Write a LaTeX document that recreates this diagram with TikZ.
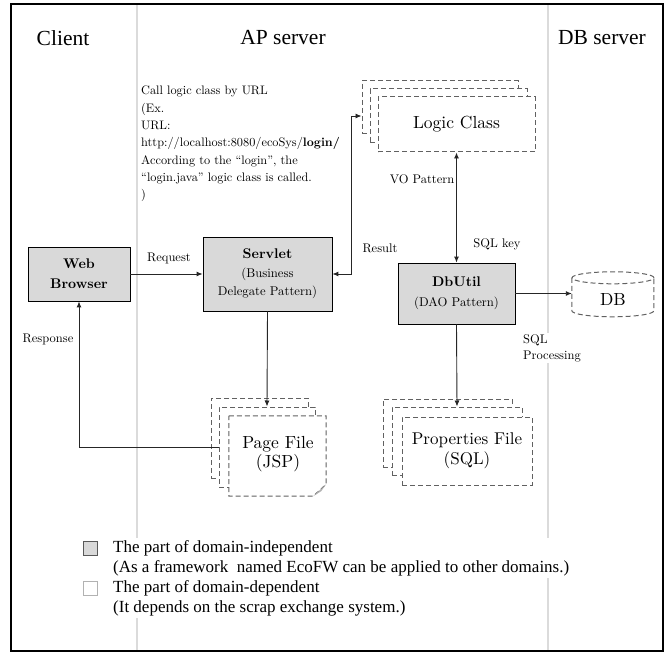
\documentclass[tikz,border=0pt]{standalone}
\usepackage{fontspec}
\setmainfont{lmroman10-regular.otf}[BoldFont=lmroman10-bold.otf, ItalicFont=lmroman10-italic.otf, BoldItalicFont=lmroman10-bolditalic.otf]
\newfontfamily\tnr{Liberation Serif}
\usetikzlibrary{arrows.meta}
\definecolor{boxgray}{gray}{0.85}
\definecolor{dashgray}{gray}{0.38}
\definecolor{divgray}{gray}{0.86}
\begin{document}
\begin{tikzpicture}[x=1pt,y=-1pt,
  solidbox/.style={draw=black, line width=0.8pt, fill=boxgray, align=center, inner sep=0pt},
  pagebox/.style={draw=dashgray, line width=1pt, dash pattern=on 5pt off 3pt, fill=white, inner sep=0pt, align=center},
  conn/.style={line width=0.9pt, draw=black!85},
  tipend/.style={-{Latex[length=6pt,width=5pt]}},
  tipboth/.style={{Latex[length=6pt,width=5pt]}-{Latex[length=6pt,width=5pt]}},
  lbl/.style={font=\fontsize{12.5}{15}\selectfont, inner sep=1pt},
  ttl/.style={font=\tnr\fontsize{21.5}{25}\selectfont},
  legtxt/.style={anchor=north west, fill=white, inner sep=2pt, align=left, font=\tnr\fontsize{17}{20}\selectfont},
]
\useasboundingbox (0,0) rectangle (667,655);

% column dividers
\draw[divgray, line width=1.2pt] (137,4) -- (137,651);
\draw[divgray, line width=1.2pt] (548,4) -- (548,651);

% titles
\node[ttl] (tclient) at (63,38) {Client};
\node[ttl] (tap) at (283,38) {AP server};
\node[ttl] (tdb) at (602,38) {DB server};

% URL note
\node[anchor=north west, inner sep=0pt, align=left, font=\fontsize{12.3}{17.3}\selectfont] (note) at (141,86)
{Call logic class by URL\\(Ex.\\URL:\\http://localhost:8080/ecoSys/\textbf{login/}\\According to the “login”, the\\“login.java” logic class is called.\\)};

% solid boxes
\node[solidbox, minimum width=102pt, minimum height=54pt, font=\bfseries\fontsize{14}{20}\selectfont] (browser) at (79,274) {Web\\Browser};
\node[solidbox, minimum width=129pt, minimum height=74pt, font=\fontsize{12.7}{18.5}\selectfont] (servlet) at (267.5,274) {{\bfseries\fontsize{14}{18.5}\selectfont Servlet}\\(Business\\Delegate Pattern)};
\node[solidbox, minimum width=117pt, minimum height=61pt, font=\fontsize{12.7}{20}\selectfont] (dbutil) at (456.5,293.5) {{\bfseries\fontsize{14}{20}\selectfont DbUtil}\\(DAO Pattern)};

% Logic class stack
\node[pagebox, minimum width=156pt, minimum height=53pt] (lc3) at (440,107.5) {};
\node[pagebox, minimum width=157pt, minimum height=54pt] (lc2) at (448.5,116) {};
\node[pagebox, minimum width=157pt, minimum height=55pt, font=\fontsize{17.5}{22}\selectfont] (lc1) at (456.5,124.5) {Logic Class};

% Properties stack
\node[pagebox, minimum width=129pt, minimum height=68pt] (pf3) at (447.5,433) {};
\node[pagebox, minimum width=130pt, minimum height=68pt] (pf2) at (457,441) {};
\node[pagebox, minimum width=130pt, minimum height=68pt, font=\fontsize{17}{20}\selectfont] (pf1) at (467,451) {Properties File\\(SQL)};

% Page file stack
\node[pagebox, minimum width=97pt, minimum height=80pt] (pg3) at (259.5,438) {};
\node[pagebox, minimum width=96pt, minimum height=80pt] (pg2) at (267,447) {};
\node[fill=white, inner sep=0pt, minimum width=97pt, minimum height=80pt] (pg1) at (277.5,456) {};
\draw[draw=dashgray, line width=1pt, dash pattern=on 5pt off 3pt]
  (pg1.north west) -- (pg1.north east) -- ([yshift=12pt]pg1.south east) -- ([xshift=-13pt]pg1.south east) -- (pg1.south west) -- cycle;
\fill[gray!60] ([xshift=-13pt]pg1.south east) -- ([yshift=12pt]pg1.south east) -- ([xshift=-5pt,yshift=5pt]pg1.south east) -- cycle;
\node[align=center, inner sep=0pt, font=\fontsize{17.5}{19}\selectfont] (pgtxt) at (278,454) {Page File\\(JSP)};

% DB cylinder
\node[inner sep=0pt, minimum width=82pt, minimum height=45pt] (db) at (613,294.5) {};
\draw[draw=dashgray, line width=1pt, dash pattern=on 5pt off 3pt, fill=white]
  (db.north west) ++(0,6) -- ++(0,33) arc[start angle=180, end angle=360, x radius=41pt, y radius=6pt] -- ++(0,-33);
\draw[draw=dashgray, line width=1pt, dash pattern=on 5pt off 3pt]
  ([yshift=-6pt]db.north) ellipse [x radius=41pt, y radius=6pt];
\node[font=\fontsize{17.5}{22}\selectfont, inner sep=0pt] (dbtxt) at (613,300) {DB};

% connectors
\coordinate (lcin) at ([yshift=-8.5pt]lc3.west);
\draw[conn, tipend] (browser) -- (servlet);
\draw[conn, tipend] (servlet.south) -- (pg2.north);
\draw[conn, tipend] (pg2.west) -| (browser.south);
\draw[conn, tipboth] (servlet.east) -| ([xshift=-10pt]lcin) -- (lcin);
\draw[conn, tipboth] (lc1.south) -- (dbutil.north);
\draw[conn, tipend] (dbutil.east) -- (dbutil.east -| db.west);
\draw[conn, tipend] (dbutil.south) -- (pf2.north);

% connector labels
\node[lbl] (lreq) at (169,258) {Request};
\node[lbl] (lresp) at (48,339) {Response};
\node[lbl] (lres) at (380,248) {Result};
\node[lbl] (lvo) at (422,179) {VO Pattern};
\node[lbl] (lsqlk) at (497,244) {SQL key};
\node[lbl, anchor=west, fill=white, align=left, font=\fontsize{12.5}{16}\selectfont] (lsqlp) at (522,348) {SQL\\Processing};

% legend
\node[draw=gray!70!black, fill=boxgray, minimum size=14pt, inner sep=0pt] (lg1) at (90,548) {};
\node[legtxt] (lt1) at (111,538) {The part of domain-independent\\(As a framework\ \ named EcoFW can be applied to other domains.)};
\node[draw=gray!60, fill=white, minimum size=14pt, inner sep=0pt] (lg2) at (90,588) {};
\node[legtxt] (lt2) at (111,578) {The part of domain-dependent\\(It depends on the scrap exchange system.)};

% outer frame
\draw[line width=2.5pt] (11,4) rectangle (663,651);
\end{tikzpicture}
\end{document}
